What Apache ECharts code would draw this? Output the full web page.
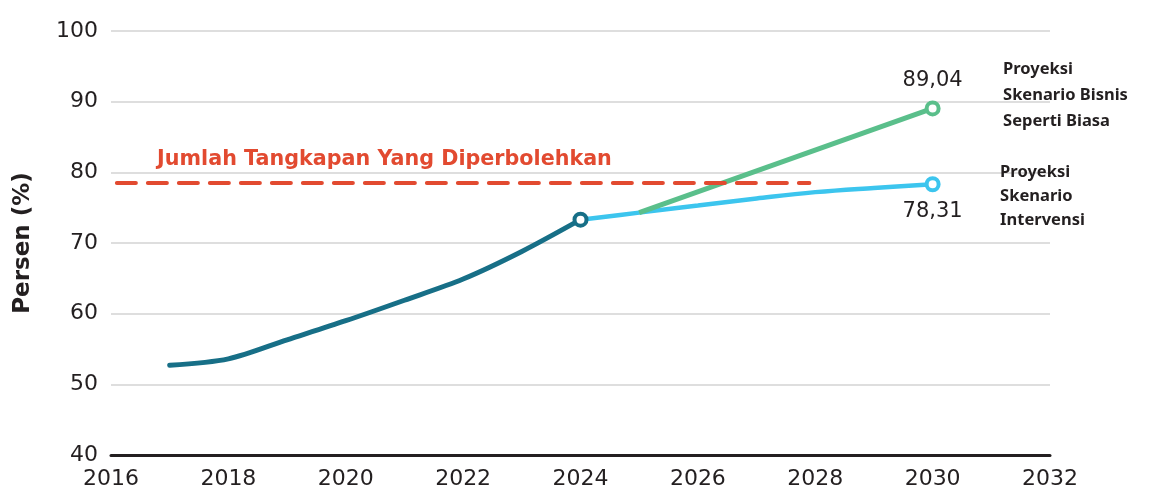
<!DOCTYPE html>
<html>
<head>
<meta charset="utf-8">
<script src="https://cdn.jsdelivr.net/npm/echarts@6/dist/echarts.min.js"></script>
<style>
  html, body { margin: 0; padding: 0; background: #fff; }
  #chart { width: 1157px; height: 494px; }
</style>
</head>
<body>
<div id="chart"></div>
<script>
// data
const histYears = [2017, 2018, 2019, 2020, 2021, 2022, 2023, 2024]
const histValues = [52.7, 53.6, 56.3, 59.0, 61.9, 64.9, 68.8, 73.3]

const bauYears = [2025, 2030]
const bauValues = [74.3, 89.04]

const intvYears = [2024, 2025, 2026, 2027, 2028, 2029, 2030]
const intvValues = [73.3, 74.3, 75.3, 76.3, 77.2, 77.8, 78.31]

const tacValue = 78.5
const tacRange = [2016.1, 2027.9]
const tacLabel = 'Jumlah Tangkapan Yang Diperbolehkan'

const bauLabel = 'Proyeksi\nSkenario Bisnis\nSeperti Biasa'
const intvLabel = 'Proyeksi\nSkenario\nIntervensi'

const numFont = 'DejaVu Sans'
const textFont = 'Noto Sans'
const dark = '#231f20'
const cTeal = '#176f87'
const cGreen = '#5abf8b'
const cBlue = '#3cc5ee'
const cRed = '#e24a30'

const chart = echarts.init(document.getElementById('chart'))

const fmt = v => String(v).replace('.', ',')

// hollow end marker, optionally with its value label
const endPoint = (pt, color, pos) => ({
  value: pt,
  symbol: 'circle',
  symbolSize: 12,
  itemStyle: { color: '#fff', borderColor: color, borderWidth: 4 },
  label: pos ? {
    show: true, position: pos, distance: 9,
    fontFamily: numFont, fontSize: 21, color: dark,
    formatter: p => fmt(p.value[1])
  } : { show: false }
})

const lastAsMarker = (xs, ys, color, pos) =>
  xs.map((x, i) => i === xs.length - 1 ? endPoint([x, ys[i]], color, pos) : [x, ys[i]])

const sideNote = (text, coord, lh) => ({
  symbol: 'circle', symbolSize: 0, silent: true,
  label: {
    show: true, position: 'right', distance: 0, fontFamily: textFont, fontSize: 16.5,
    fontWeight: 'bold', color: dark, lineHeight: lh, formatter: text
  },
  data: [{ coord }]
})

const option = {
  animation: false,
  grid: { left: 111, right: 107, top: 31, bottom: 39 },
  xAxis: {
    type: 'value', min: 2016, max: 2032, interval: 2,
    axisLine: { show: true, onZero: false, lineStyle: { color: dark, width: 3 } },
    axisTick: { show: false },
    splitLine: { show: false },
    axisLabel: { fontFamily: numFont, fontSize: 22, color: dark, margin: 13, formatter: v => String(v) }
  },
  yAxis: {
    type: 'value', min: 40, max: 100, interval: 10,
    name: 'Persen (%)', nameLocation: 'middle', nameGap: 76, nameRotate: 90,
    nameTextStyle: { fontFamily: numFont, fontSize: 23, fontWeight: 'bold', color: dark },
    axisLine: { show: false },
    axisTick: { show: false },
    axisLabel: { fontFamily: numFont, fontSize: 22, color: dark, margin: 13 },
    splitLine: { lineStyle: { color: '#d3d3d3', width: 1.5 } }
  },
  series: [
    {
      name: 'TAC', type: 'line', data: [], silent: true,
      markLine: {
        symbol: 'none', silent: true,
        lineStyle: { color: cRed, width: 4, type: [19, 12], cap: 'round' },
        label: { show: false },
        data: [[{ coord: [tacRange[0], tacValue] }, { coord: [tacRange[1], tacValue] }]]
      },
      markPoint: {
        symbol: 'circle', symbolSize: 0, silent: true,
        label: {
          show: true, position: 'inside', fontFamily: numFont, fontSize: 20.7,
          fontWeight: 'bold', color: cRed, formatter: tacLabel
        },
        data: [{ coord: [2020.66, 81.8] }]
      }
    },
    {
      name: 'intv', type: 'line', smooth: 0.4, symbol: 'none', showSymbol: true, z: 3,
      lineStyle: { color: cBlue, width: 4.5 },
      data: lastAsMarker(intvYears, intvValues, cBlue, 'bottom'),
      markPoint: sideNote(intvLabel, [2031.15, 76.6], 24)
    },
    {
      name: 'bau', type: 'line', symbol: 'none', showSymbol: true, z: 4,
      lineStyle: { color: cGreen, width: 5 },
      data: lastAsMarker(bauYears, bauValues, cGreen, 'top'),
      markPoint: sideNote(bauLabel, [2031.2, 90.9], 26)
    },
    {
      name: 'hist', type: 'line', smooth: 0.3, symbol: 'none', showSymbol: true, z: 5,
      lineStyle: { color: cTeal, width: 5, cap: 'round' },
      data: lastAsMarker(histYears, histValues, cTeal, null)
    }
  ]
}

chart.setOption(option)
window.addEventListener('resize', () => chart.resize())
</script>
</body>
</html>
